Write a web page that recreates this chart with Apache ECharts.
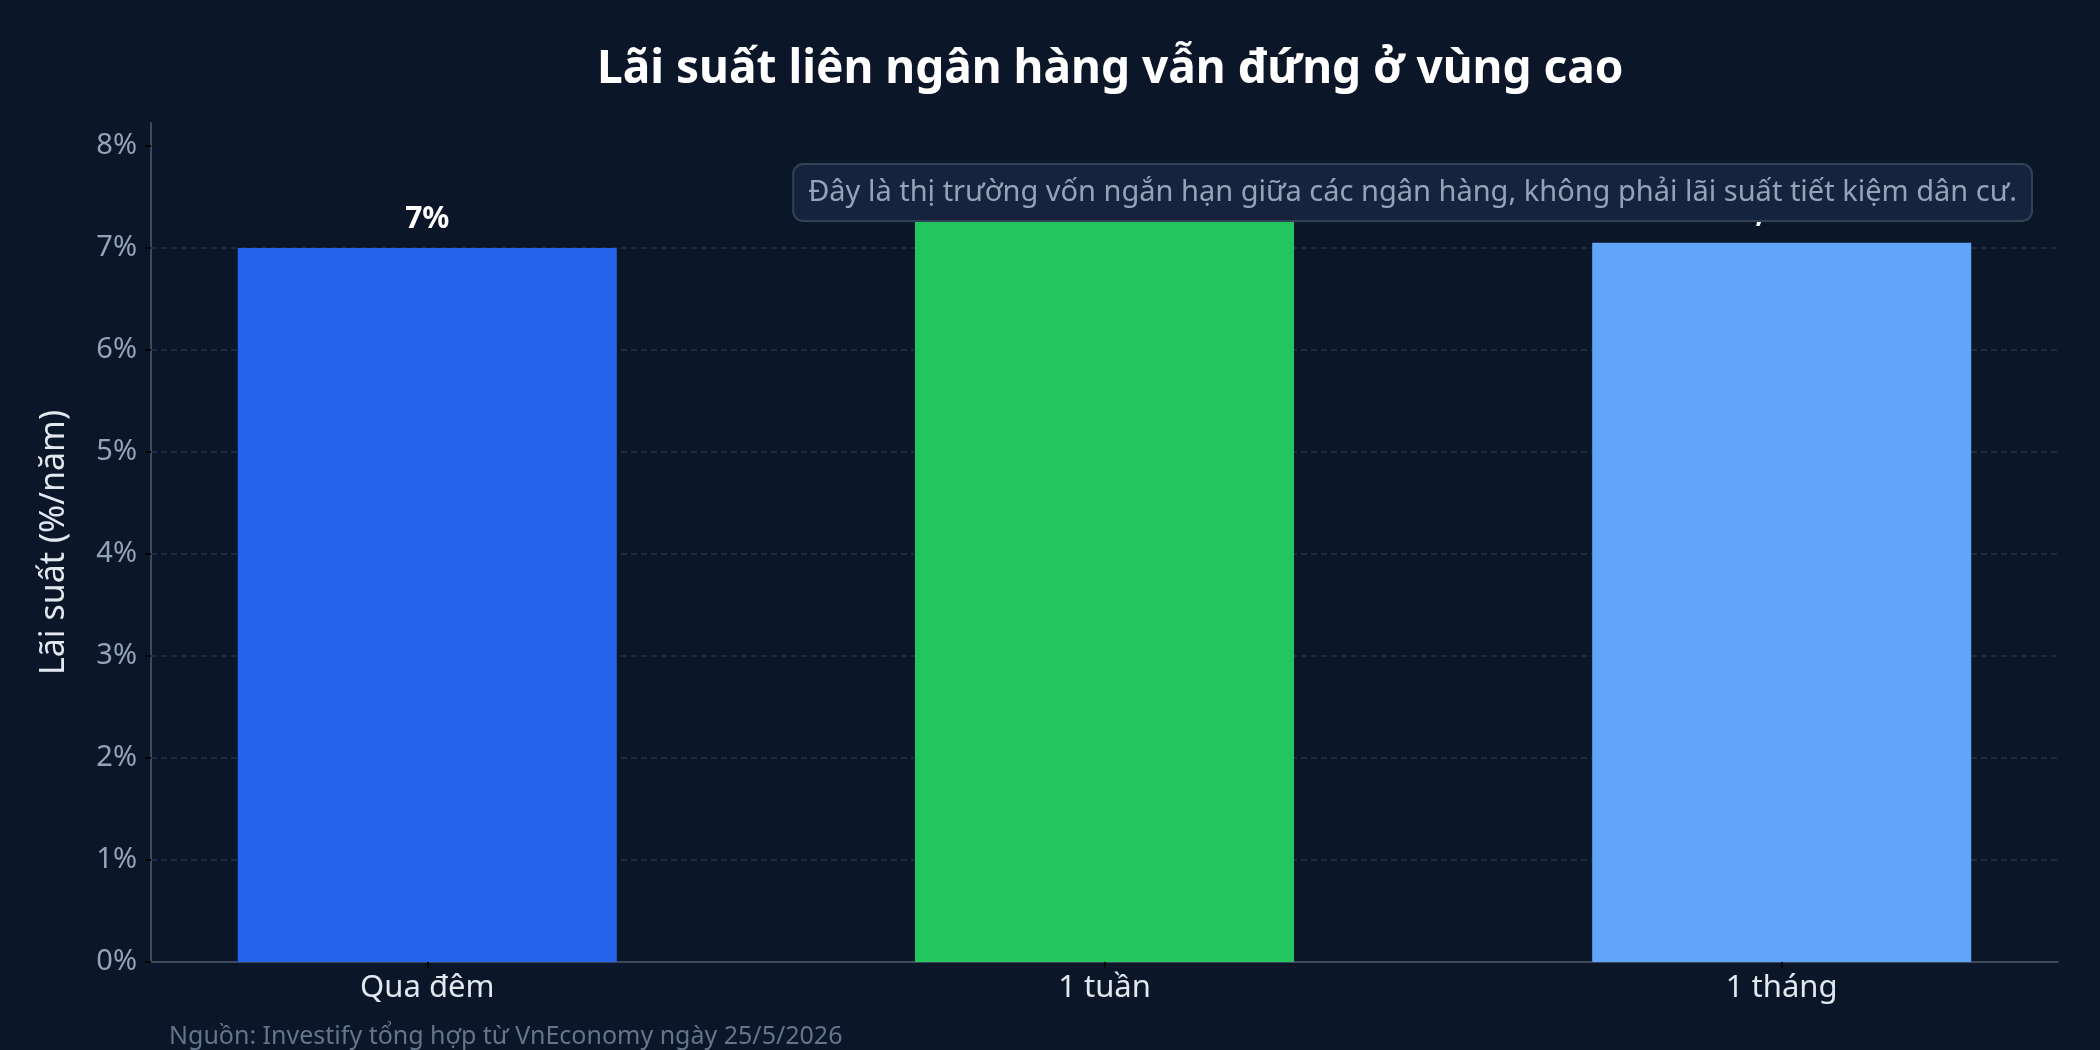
<!DOCTYPE html>
<html>
<head>
<meta charset="utf-8">
<script src="https://cdn.jsdelivr.net/npm/echarts@6/dist/echarts.min.js"></script>
<style>
  html, body { margin: 0; padding: 0; background: #0b1628; }
  #chart { width: 2100px; height: 1050px; }
</style>
</head>
<body>
<div id="chart"></div>
<script>
// dữ liệu
var categories = ['Qua đêm', '1 tuần', '1 tháng'];
var rates = [7, 7.34, 7.05];
var barColors = ['#2563eb', '#22c55e', '#60a5fa'];
var yTicks = [0, 1, 2, 3, 4, 5, 6, 7, 8];
var catPositions = [0, 1, 2];

var titleText = 'Lãi suất liên ngân hàng vẫn đứng ở vùng cao';
var noteText = 'Đây là thị trường vốn ngắn hạn giữa các ngân hàng, không phải lãi suất tiết kiệm dân cư.';
var sourceText = 'Nguồn: Investify tổng hợp từ VnEconomy ngày 25/5/2026';

var font = '"Noto Sans", "DejaVu Sans", sans-serif';

function fmtPct(v) {
    return String(v).replace('.', ',') + '%';
}

var chart = echarts.init(document.getElementById('chart'));

var barData = rates.map(function (v, i) {
    return {value: [catPositions[i], v], itemStyle: {color: barColors[i]}};
});

chart.setOption({
    backgroundColor: '#0b1628',
    textStyle: {fontFamily: font},
    animation: false,
    title: {
        text: titleText,
        left: 592,
        top: 42,
        textStyle: {color: '#ffffff', fontSize: 46, fontWeight: 'bold', fontFamily: font}
    },
    grid: {left: 151, right: 42, top: 123, bottom: 88},
    xAxis: {
        type: 'value',
        min: -0.408,
        max: 2.408,
        axisLine: {show: true, onZero: false, lineStyle: {color: '#3e4a5c', width: 2}},
        axisTick: {show: true, customValues: catPositions, length: 6, lineStyle: {color: '#000000', width: 2}},
        axisLabel: {
            customValues: catPositions,
            formatter: function (v) { return categories[Math.round(v)]; },
            color: '#e2e8f0',
            fontSize: 31,
            margin: 11
        },
        splitLine: {show: false}
    },
    yAxis: {
        type: 'value',
        min: 0,
        max: 8.225,
        interval: 1,
        name: 'Lãi suất (%/năm)',
        nameLocation: 'middle',
        nameGap: 80,
        nameTextStyle: {color: '#e2e8f0', fontSize: 34},
        axisLine: {show: true, onZero: false, lineStyle: {color: '#3e4a5c', width: 2}},
        axisTick: {show: true, customValues: yTicks, length: 6, lineStyle: {color: '#000000', width: 2}},
        axisLabel: {
            customValues: yTicks,
            formatter: function (v) { return v + '%'; },
            color: '#94a3b8',
            fontSize: 29,
            margin: 14
        },
        splitLine: {
            show: true,
            showMaxLine: false,
            lineStyle: {color: '#243247', type: [6, 4], width: 1.5}
        }
    },
    series: [{
        type: 'bar',
        barWidth: 379,
        data: barData,
        label: {
            show: true,
            position: 'top',
            distance: 14,
            color: '#ffffff',
            fontWeight: 'bold',
            fontSize: 30,
            formatter: function (p) { return fmtPct(p.value[1]); }
        }
    }],
    graphic: [{
        type: 'text',
        right: 67,
        top: 163,
        z: 100,
        style: {
            text: noteText,
            font: '29px ' + font,
            fill: '#94a3b8',
            backgroundColor: '#16233e',
            borderColor: '#334155',
            borderWidth: 2,
            borderRadius: 9,
            padding: [13, 14, 13, 14]
        }
    }, {
        type: 'text',
        left: 169,
        top: 1024,
        style: {
            text: sourceText,
            font: '25px ' + font,
            fill: '#64748b'
        }
    }]
});
</script>
</body>
</html>
